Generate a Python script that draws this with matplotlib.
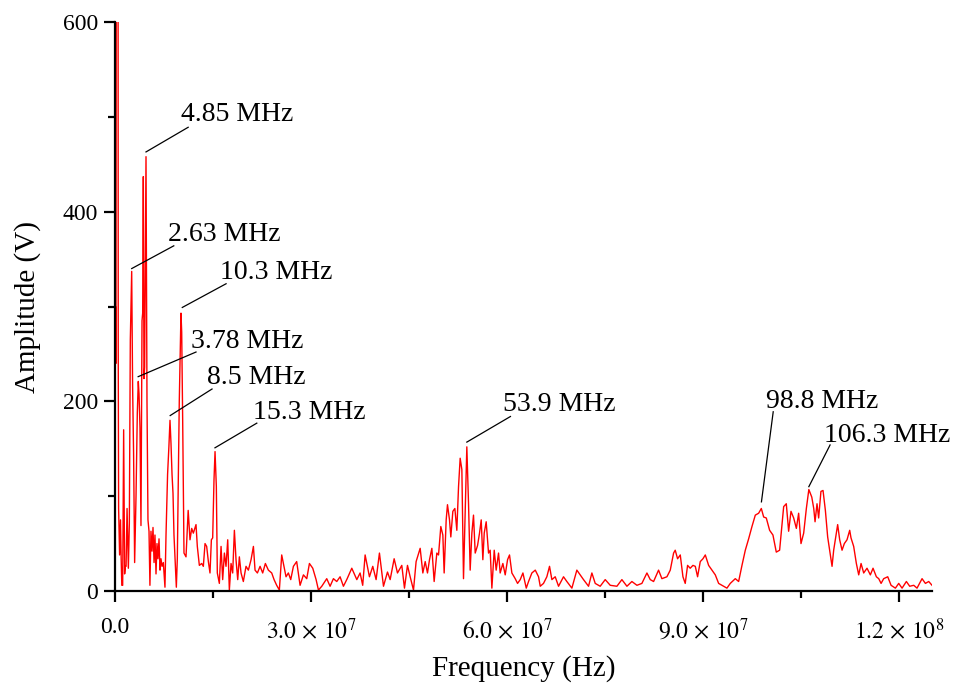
import numpy as np
import matplotlib
matplotlib.use('Agg')
import matplotlib.pyplot as plt
from matplotlib.ticker import MultipleLocator

plt.rcParams['font.family'] = ['Liberation Serif', 'DejaVu Serif']
plt.rcParams['mathtext.fontset'] = 'stix'

# spectrum: frequency (MHz) and amplitude (V)
freq_mhz = [
    0.00, 0.08, 0.15, 0.20, 0.30, 0.40, 0.48, 0.50, 0.56, 0.71, 0.85, 0.95, 1.05, 1.18,
    1.33, 1.48, 1.58, 1.70, 1.85, 2.05, 2.20, 2.35, 2.56, 2.70, 2.85, 3.01, 3.22,
    3.42, 3.57, 3.68, 3.83, 3.98, 4.14, 4.24, 4.34, 4.44, 4.54, 4.75, 4.90, 5.05,
    5.21, 5.35, 5.51, 5.67, 5.82, 5.98, 6.12, 6.28, 6.43, 6.58, 6.74, 6.89, 7.04,
    7.20, 7.40, 7.65, 7.81, 8.05, 8.25, 8.42, 8.57, 8.73, 8.88, 9.03, 9.24, 9.39,
    9.54, 9.70, 9.84, 10.0, 10.1, 10.21, 10.36, 10.56, 10.87, 11.2, 11.48, 11.74,
    11.99, 12.4, 12.6, 12.91, 13.27, 13.52, 13.78, 14.03, 14.29, 14.54, 14.75,
    14.95, 15.15, 15.31, 15.51, 15.66, 15.97, 16.23, 16.48, 16.74, 16.99, 17.25,
    17.5, 17.76, 18.01, 18.27, 18.52, 18.78, 19.03, 19.29, 19.64, 20.05, 20.41,
    20.82, 21.18, 21.43, 21.79, 22.2, 22.6, 23.01, 23.47, 23.98, 24.34, 24.74,
    25.15, 25.51, 25.77, 26.17, 26.53, 26.89, 27.3, 27.8, 28.32, 28.83, 29.34,
    29.75, 30.26, 30.77, 31.13, 31.64, 32.4, 32.91, 33.42, 33.93, 34.44, 34.95,
    35.46, 36.23, 37.0, 37.5, 37.9, 38.27, 38.93, 39.44, 39.95, 40.46, 41.08,
    41.69, 42.1, 42.71, 43.22, 43.88, 44.29, 44.75, 45.16, 45.67, 46.07, 46.69,
    47.1, 47.46, 47.81, 48.12, 48.48, 48.83, 49.24, 49.5, 49.85, 50.16, 50.36,
    50.67, 50.87, 51.18, 51.38, 51.69, 52.0, 52.3, 52.56, 52.81, 53.07, 53.32,
    53.58, 53.83, 54.09, 54.34, 54.6, 54.85, 55.11, 55.47, 55.77, 56.03, 56.28,
    56.49, 56.79, 57.15, 57.4, 57.66, 58.02, 58.32, 58.68, 58.93, 59.34, 59.7,
    60.06, 60.36, 60.72, 61.23, 61.59, 62.0, 62.41, 62.92, 63.27, 63.78, 64.3,
    64.8, 65.06, 65.56, 66.07, 66.48, 66.84, 67.35, 67.86, 68.62, 69.13, 69.9,
    70.66, 71.17, 71.68, 72.45, 72.96, 73.47, 74.23, 75.0, 75.77, 76.79, 77.55,
    78.32, 79.08, 79.85, 80.61, 81.38, 81.89, 82.4, 83.16, 83.67, 84.44, 84.95,
    85.46, 85.71, 86.07, 86.48, 86.89, 87.24, 87.6, 88.0, 88.42, 88.78, 89.13,
    89.54, 89.95, 90.31, 90.82, 91.33, 91.84, 92.35, 92.86, 93.62, 94.13, 94.9,
    95.41, 95.92, 96.43, 96.94, 97.45, 97.96, 98.47, 98.88, 99.24, 99.64, 100.15,
    100.66, 101.17, 101.68, 102.3, 102.7, 103.06, 103.42, 103.83, 104.24, 104.59,
    104.95, 105.36, 105.77, 106.15, 106.6, 106.9, 107.1, 107.4, 107.65, 108.0,
    108.32, 108.68, 109.03, 109.34, 109.7, 109.95, 110.36, 110.56, 110.87, 111.23,
    111.58, 111.99, 112.4, 112.6, 113.01, 113.42, 113.78, 114.14, 114.54, 115.05,
    115.56, 115.97, 116.48, 116.84, 117.2, 117.6, 118.22, 118.73, 119.39, 119.9,
    120.41, 121.07, 121.58, 122.2, 122.7, 123.47, 123.98, 124.49, 125.0,
]
amplitude = [
    245, 300, 240, 650, 660, 640, 600, 260, 87, 38, 75, 34, 6, 6,
    170, 18, 26, 26, 87, 24, 71, 265, 337, 216, 145, 30, 99,
    188, 221, 208, 172, 69, 285, 293, 437, 224, 236, 458, 200, 75,
    63, 6, 63, 42, 67, 30, 59, 18, 50, 34, 55, 22, 34,
    26, 30, 4, 59, 123, 152, 180, 156, 123, 103, 59, 26, 4,
    34, 119, 200, 260, 293, 273, 180, 40, 36, 85, 54, 66,
    61, 70, 47, 27, 29, 26, 50, 47, 31, 19, 54,
    56, 117, 147, 110, 19, 8, 47, 12, 40, 26, 54,
    1, 29, 19, 64, 33, 12, 36, 19, 10, 26, 22,
    33, 47, 22, 19, 26, 19, 29, 22, 19, 12, 6,
    1, 38, 29, 15, 19, 12, 26, 31, 6, 17, 13,
    29, 24, 12, 1, 5, 13, 5, 13, 10, 15, 5,
    12, 24, 12, 19, 6, 38, 15, 26, 12, 40, 5,
    20, 12, 34, 19, 27, 3, 27, 15, 1, 31, 45,
    19, 31, 19, 33, 45, 10, 40, 38, 68, 59, 19,
    75, 91, 75, 57, 84, 87, 64, 110, 140, 128, 13,
    84, 152, 92, 22, 61, 80, 40, 48, 61, 75, 33,
    61, 73, 40, 43, 3, 43, 22, 40, 19, 29, 17,
    33, 38, 19, 13, 8, 12, 19, 3, 10, 19, 22,
    15, 5, 8, 15, 26, 12, 15, 5, 15, 10, 3,
    22, 17, 12, 5, 19, 8, 5, 12, 6, 5, 12,
    5, 10, 6, 8, 19, 12, 10, 22, 13, 15, 22,
    40, 43, 34, 38, 15, 8, 27, 24, 27, 26, 15,
    31, 34, 38, 27, 22, 17, 8, 6, 3, 8, 13,
    10, 27, 43, 55, 68, 80, 82, 87, 78, 77, 64,
    59, 41, 43, 89, 92, 63, 84, 77, 66, 82,
    50, 61, 87, 107, 99, 87, 73, 92, 77, 105,
    106, 85, 57, 43, 26, 43, 61, 70, 54, 43,
    50, 54, 64, 56, 47, 29, 17, 29, 19, 24,
    17, 24, 15, 13, 8, 13, 15, 6, 3, 8,
    3, 10, 5, 6, 3, 13, 8, 10, 6,
]

# peak labels: text, line start (MHz, V), line end (MHz, V), text anchor (MHz, V)
peak_labels = ['4.85 MHz', '2.63 MHz', '10.3 MHz', '3.78 MHz', '8.5 MHz',
               '15.3 MHz', '53.9 MHz', '98.8 MHz', '106.3 MHz']
line_start = [(4.75, 463), (2.56, 340), (10.3, 299), (3.55, 226), (8.45, 185),
              (15.3, 151), (53.83, 157), (98.9, 94), (106.15, 110)]
line_end = [(11.2, 489), (9.0, 364), (17.0, 324), (12.4, 252), (14.85, 213),
            (21.7, 177), (60.5, 184), (100.7, 189), (109.4, 154)]
text_pos = [(10.1, 502), (8.1, 376), (16.1, 336), (11.6, 263), (14.1, 225),
            (21.1, 188), (59.4, 197), (99.6, 200), (108.5, 164)]

xticks = [0, 3.0e7, 6.0e7, 9.0e7, 1.2e8]
xticklabels = ['0.0', r'$3.0\,\times\,10^{7}$', r'$6.0\,\times\,10^{7}$',
               r'$9.0\,\times\,10^{7}$', r'$1.2\,\times\,10^{8}$']

fig = plt.figure(figsize=(9.54, 6.88), dpi=100)
ax = fig.add_axes([0.1205, 0.141, 0.8565, 0.827])

f_hz = np.array(freq_mhz) * 1e6
ax.plot(f_hz, amplitude, color='#ff0000', lw=1.0)

for lab, s, e, t in zip(peak_labels, line_start, line_end, text_pos):
    ax.plot([s[0] * 1e6, e[0] * 1e6], [s[1], e[1]], color='black', lw=0.9)
    ax.text(t[0] * 1e6, t[1], lab, fontsize=20, ha='left', va='center')

ax.set_xlim(0, 1.25e8)
ax.set_ylim(0, 600)
ax.set_xticks(xticks)
ax.set_xticklabels(xticklabels)
ax.xaxis.set_minor_locator(MultipleLocator(1.5e7))
ax.set_yticks([0, 200, 400, 600])
ax.yaxis.set_minor_locator(MultipleLocator(100))

for side in ['top', 'right']:
    ax.spines[side].set_visible(False)
for side in ['left', 'bottom']:
    ax.spines[side].set_linewidth(1.6)

ax.tick_params(axis='both', which='major', direction='out', length=8, width=1.6,
               labelsize=17)
ax.tick_params(axis='both', which='minor', direction='out', length=5, width=1.6)
ax.tick_params(axis='x', which='major', pad=11)
ax.tick_params(axis='y', which='major', pad=4)

ax.set_xlabel('Frequency (Hz)', fontsize=21, labelpad=8)
ax.set_ylabel('Amplitude (V)', fontsize=21, labelpad=16)

fig.savefig('out.png', dpi=100)
